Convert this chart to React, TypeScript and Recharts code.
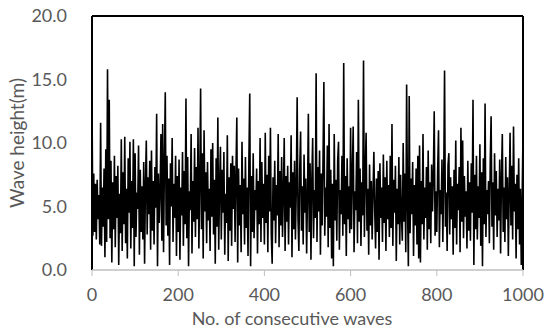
import React from 'react';
import { LineChart, Line, XAxis, YAxis, ReferenceLine } from 'recharts';

// Wave heights (m), one value every WAVE_STEP consecutive waves
const WAVE_STEP = 2;
const heights: number[] = [
  13.5, 2.7, 7.6, 3.0, 6.8, 2.4, 7.1, 4.0, 5.9, 2.0, 11.6, 1.9, 6.5, 3.4, 8.0, 1.0, 9.5, 2.2, 15.8, 4.0,
  13.4, 2.5, 8.6, 0.6, 6.9, 3.2, 9.0, 1.8, 7.4, 4.1, 8.2, 0.4, 6.0, 2.9, 10.3, 1.5, 7.7, 3.6, 10.5, 2.1,
  6.4, 0.9, 8.8, 4.5, 10.1, 1.7, 7.0, 3.3, 10.3, 0.3, 9.2, 2.6, 6.1, 4.8, 9.8, 1.2, 7.9, 3.0, 6.6, 2.4,
  8.5, 0.5, 6.7, 10.2, 2.8, 7.3, 4.4, 8.6, 1.6, 9.4, 3.1, 7.0, 2.0, 8.1, 4.9, 12.3, 0.3, 7.6, 3.7, 6.3,
  10.7, 2.3, 11.5, 1.4, 8.3, 14.0, 3.5, 9.0, 2.7, 7.2, 0.4, 8.4, 5.0, 10.4, 2.2, 6.8, 4.1, 9.0, 1.1, 7.4,
  3.0, 8.7, 0.8, 6.5, 4.3, 9.3, 1.9, 7.8, 3.6, 13.5, 2.5, 8.9, 0.3, 6.2, 4.7, 10.7, 1.3, 7.0, 3.8, 9.6,
  2.6, 8.1, 4.0, 11.2, 1.7, 6.9, 14.3, 3.2, 9.2, 0.9, 11.0, 4.6, 7.7, 2.1, 8.5, 3.9, 6.4, 1.5, 9.5, 4.2,
  10.0, 2.8, 7.1, 0.5, 8.8, 3.4, 12.0, 1.6, 6.6, 9.7, 2.4, 7.9, 4.5, 9.3, 1.2, 6.0, 3.7, 10.6, 0.7, 7.3,
  3.1, 8.4, 1.9, 9.0, 4.8, 8.2, 2.2, 7.6, 12.0, 0.6, 8.0, 3.5, 6.7, 1.4, 10.1, 4.4, 7.2, 2.0, 8.9, 3.3,
  6.5, 1.1, 8.6, 13.9, 0.3, 7.4, 3.0, 9.2, 2.5, 6.3, 4.7, 8.0, 1.3, 7.0, 3.6, 10.4, 2.2, 8.5, 4.1, 6.8,
  2.0, 10.8, 3.7, 7.5, 1.4, 9.0, 4.6, 11.2, 2.8, 0.5, 7.3, 3.9, 8.6, 2.1, 6.7, 4.3, 10.7, 1.8, 7.8, 3.5,
  8.9, 2.6, 6.1, 10.4, 1.5, 7.4, 3.8, 8.2, 2.0, 6.9, 4.9, 10.6, 1.0, 7.7, 3.2, 8.6, 2.4, 6.4, 13.6, 4.0,
  1.5, 8.0, 10.9, 3.1, 6.6, 2.0, 9.1, 4.5, 7.2, 1.3, 5.9, 12.3, 3.0, 8.4, 0.8, 7.0, 10.4, 2.5, 6.3, 4.1,
  15.5, 2.2, 8.1, 4.6, 9.4, 1.2, 7.6, 3.5, 8.7, 14.8, 2.7, 6.5, 4.2, 9.8, 1.8, 11.5, 3.3, 7.9, 0.9, 6.8,
  0.3, 10.7, 3.9, 7.1, 2.3, 8.6, 10.1, 1.6, 6.3, 4.4, 9.0, 2.7, 16.3, 3.6, 7.4, 1.1, 8.8, 4.0, 6.6, 2.9,
  11.2, 3.2, 7.5, 11.3, 1.4, 6.2, 4.7, 9.3, 2.1, 13.4, 3.8, 8.0, 1.9, 6.9, 4.3, 16.5, 2.6, 7.7, 10.8, 3.1,
  6.4, 1.2, 8.3, 3.5, 7.0, 2.4, 6.1, 9.3, 4.6, 1.7, 7.2, 3.0, 7.8, 0.8, 8.4, 4.1, 6.5, 2.2, 9.1, 3.7,
  7.3, 1.5, 8.6, 4.0, 6.7, 2.6, 9.0, 3.3, 11.5, 1.9, 7.1, 4.5, 8.2, 0.7, 6.4, 3.6, 8.9, 2.0, 7.5, 4.2,
  2.3, 10.0, 3.8, 7.6, 1.4, 14.6, 5.3, 0.3, 13.7, 2.9, 7.2, 4.4, 8.5, 1.1, 6.7, 3.5, 8.0, 2.0, 9.0, 0.9,
  9.8, 0.6, 7.0, 3.6, 10.7, 2.4, 6.5, 4.1, 8.1, 1.6, 9.4, 3.2, 6.9, 2.1, 8.3, 4.6, 7.4, 12.5, 2.7, 6.2,
  3.0, 7.8, 11.0, 1.8, 6.3, 4.4, 8.7, 2.2, 7.0, 15.7, 3.4, 6.1, 1.5, 8.2, 9.2, 2.8, 7.3, 4.0, 6.6, 1.2,
  7.9, 3.3, 10.2, 2.0, 6.8, 4.7, 8.1, 1.4, 11.2, 3.8, 10.2, 2.5, 7.4, 4.2, 6.2, 1.7, 8.6, 3.1, 6.9, 2.3,
  8.4, 4.5, 13.4, 0.4, 7.5, 3.2, 9.0, 2.4, 6.6, 4.1, 9.9, 1.9, 7.7, 0.3, 8.8, 3.6, 13.1, 2.6, 6.3, 4.4,
  7.0, 2.1, 8.5, 12.1, 3.4, 6.9, 1.6, 9.2, 4.3, 7.8, 2.6, 6.4, 3.9, 8.7, 1.3, 7.2, 10.7, 3.0, 6.5, 2.2,
  8.9, 4.0, 7.3, 1.1, 6.1, 10.8, 3.5, 8.2, 2.4, 11.3, 4.6, 6.8, 0.9, 7.5, 3.2, 8.8, 2.0, 6.4, 0.4, 5.6,
  10.7,
];

const xTicks = [0, 200, 400, 600, 800, 1000];
const yTicks = [0, 5, 10, 15, 20];
const xTitle = 'No. of consecutive waves';
const yTitle = 'Wave height(m)';

const data = heights.map((h, i) => ({ wave: i * WAVE_STEP, height: h }));

const FONT = 'Lato, "Open Sans", sans-serif';
const TEXT = '#595959';

export default function App() {
  return (
    <div style={{ position: 'absolute', left: 0, top: 0, width: 550, height: 333, background: '#fff' }}>
      <LineChart
        width={550}
        height={333}
        data={data}
        margin={{ top: 16, right: 27, bottom: 33, left: 0 }}
      >
        <XAxis
          dataKey="wave"
          type="number"
          domain={[0, 1000]}
          ticks={xTicks}
          interval={0}
          height={30}
          axisLine={{ stroke: '#bfbfbf', strokeWidth: 1.5 }}
          tickLine={{ stroke: '#bfbfbf' }}
          tickSize={6}
          tickMargin={12}
          tick={{ fill: TEXT, fontSize: 18, fontFamily: FONT }}
          label={{
            content: () => (
              <text x={292} y={318} textAnchor="middle" dominantBaseline="central" fill={TEXT} fontSize={18} fontFamily={FONT}>
                {xTitle}
              </text>
            ),
          }}
        />
        <YAxis
          type="number"
          domain={[0, 20]}
          ticks={yTicks}
          interval={0}
          width={92}
          axisLine={false}
          tickLine={false}
          tickSize={6}
          tickMargin={19}
          tickFormatter={(v: number) => v.toFixed(1)}
          tick={{ fill: TEXT, fontSize: 18, fontFamily: FONT }}
          label={{
            content: () => (
              <text x={16} y={143} transform="rotate(-90 16 143)" textAnchor="middle" dominantBaseline="central" fill={TEXT} fontSize={19} fontFamily={FONT}>
                {yTitle}
              </text>
            ),
          }}
        />
        <ReferenceLine x={0} stroke="#000" strokeWidth={2} ifOverflow="visible" />
        <ReferenceLine x={1000} stroke="#000" strokeWidth={2} ifOverflow="visible" />
        <ReferenceLine y={20} stroke="#000" strokeWidth={2} ifOverflow="visible" />
        <Line
          type="linear"
          dataKey="height"
          stroke="#000"
          strokeWidth={1.6}
          dot={false}
          isAnimationActive={false}
        />
      </LineChart>
    </div>
  );
}
